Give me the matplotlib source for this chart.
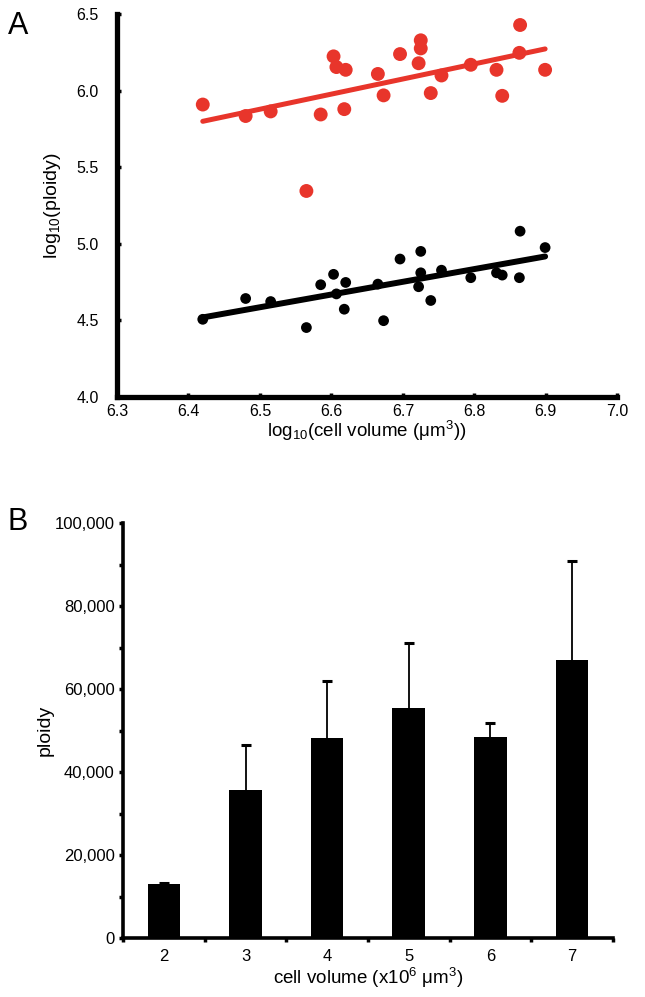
import numpy as np
import matplotlib
matplotlib.use("Agg")
import matplotlib.pyplot as plt
from matplotlib import font_manager

avail = {f.name for f in font_manager.fontManager.ttflist}
narrow = 'Liberation Sans Narrow' if 'Liberation Sans Narrow' in avail else 'Liberation Sans'
plt.rcParams['font.family'] = [narrow, 'DejaVu Sans']
plt.rcParams['mathtext.fontset'] = 'custom'
plt.rcParams['mathtext.rm'] = narrow
plt.rcParams['mathtext.it'] = narrow

# ---- Panel A data ----
log_volume = [6.42, 6.48, 6.515, 6.565, 6.585, 6.603, 6.607, 6.62, 6.618, 6.665, 6.673,
              6.696, 6.722, 6.725, 6.725, 6.739, 6.754, 6.795, 6.831, 6.839, 6.864, 6.863, 6.899]
log_ploidy_red = [5.91, 5.835, 5.865, 5.345, 5.845, 6.225, 6.155, 6.137, 5.88, 6.11, 5.97,
                  6.24, 6.18, 6.33, 6.277, 5.985, 6.10, 6.17, 6.137, 5.967, 6.43, 6.248, 6.137]
log_ploidy_black = [4.506, 4.642, 4.622, 4.452, 4.732, 4.80, 4.672, 4.747, 4.572, 4.736, 4.497,
                    4.90, 4.719, 4.95, 4.81, 4.629, 4.827, 4.778, 4.81, 4.795, 5.082, 4.778, 4.975]
xticks_a = [6.3, 6.4, 6.5, 6.6, 6.7, 6.8, 6.9, 7.0]
yticks_a = [4.0, 4.5, 5.0, 5.5, 6.0, 6.5]

# ---- Panel B data ----
volume_cat = [2, 3, 4, 5, 6, 7]
ploidy_mean = [13100, 35700, 48200, 55600, 48600, 67100]
ploidy_err = [300, 10900, 13900, 15600, 3200, 23700]
yticks_b = [0, 20000, 40000, 60000, 80000, 100000]

red = '#E8352B'

fig = plt.figure(figsize=(6.45, 9.97), dpi=100)

# ---------- Panel A ----------
axA = fig.add_axes([117/645, 1-396.7/997, (617.3-117)/645, (396.7-14.3)/997])
x = np.array(log_volume)
for yvals, col, s, lw in [(log_ploidy_red, red, 100, 3.6), (log_ploidy_black, 'black', 60, 4.3)]:
    yv = np.array(yvals)
    axA.scatter(x, yv, s=s, color=col, edgecolors='none', zorder=3, clip_on=False)
    m, b = np.polyfit(x, yv, 1)
    xs = np.array([x.min(), x.max()])
    axA.plot(xs, m*xs + b, color=col, lw=lw, solid_capstyle='round', zorder=2)

axA.set_xlim(6.3, 7.0)
axA.set_ylim(4.0, 6.5)
axA.set_xticks(xticks_a)
axA.set_yticks(yticks_a)
axA.set_xticklabels([f'{v:.1f}' for v in xticks_a])
axA.set_yticklabels([f'{v:.1f}' for v in yticks_a])
for sp in ['top', 'right']:
    axA.spines[sp].set_visible(False)
for sp in ['left', 'bottom']:
    axA.spines[sp].set_linewidth(3.8)
axA.tick_params(direction='in', length=3, width=2.5, labelsize=11.5)
axA.tick_params(axis='y', pad=13)
axA.tick_params(axis='x', pad=5)
axA.set_ylabel(r'log$_{\mathregular{10}}$(ploidy)', fontsize=14, family='Liberation Sans', labelpad=10)
axA.set_xlabel(r'log$_{\mathregular{10}}$(cell volume ($\mathregular{\mu}$m$^{\mathregular{3}}$))', fontsize=13.5, labelpad=0)
fig.text(8/645, 1-34/997, 'A', fontsize=22, family='Liberation Sans')

# ---------- Panel B ----------
axB = fig.add_axes([123/645, 1-938.3/997, (613-123)/645, (938.3-523.3)/997])
axB.bar(volume_cat, ploidy_mean, width=0.4, color='black', zorder=2)
axB.errorbar(volume_cat, ploidy_mean, yerr=[np.zeros(len(ploidy_err)), ploidy_err],
             fmt='none', ecolor='black', elinewidth=1.3, capsize=0, zorder=1)
axB.plot(volume_cat, np.array(ploidy_mean) + np.array(ploidy_err), ls='none',
         marker='_', ms=7, mew=2.2, color='black', zorder=3)
axB.set_xlim(1.5, 7.5)
axB.set_ylim(0, 100000)
axB.set_yticks(yticks_b)
axB.set_yticklabels([f'{v:,}' for v in yticks_b])
axB.set_yticks(np.arange(10000, 100000, 20000), minor=True)
axB.set_xticks(volume_cat)
axB.set_xticks(np.arange(1.5, 8.0, 1.0), minor=True)
for sp in ['top', 'right']:
    axB.spines[sp].set_visible(False)
for sp in ['left', 'bottom']:
    axB.spines[sp].set_linewidth(2.6)
axB.tick_params(axis='y', which='both', direction='out', length=3, width=2.5, labelsize=12, pad=3)
axB.tick_params(axis='x', which='major', length=0, labelsize=12, pad=8)
axB.tick_params(axis='x', which='minor', direction='out', length=3, width=2.5)
axB.set_ylabel('ploidy', fontsize=14, family='Liberation Sans', labelpad=1)
axB.set_xlabel(r'cell volume (x10$^{\mathregular{6}}$ $\mathregular{\mu}$m$^{\mathregular{3}}$)', fontsize=13.5, labelpad=1)
fig.text(8/645, 1-530/997, 'B', fontsize=22, family='Liberation Sans')

fig.savefig('out.png', dpi=100)
